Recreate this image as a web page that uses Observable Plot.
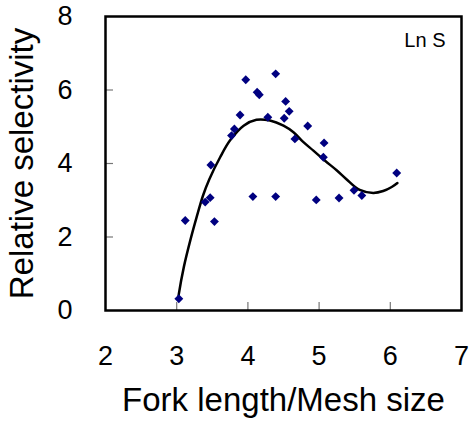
<!DOCTYPE html>
<html>
<head>
<meta charset="utf-8">
<script src="https://cdn.jsdelivr.net/npm/d3@7"></script>
<script src="https://cdn.jsdelivr.net/npm/@observablehq/plot@0.6"></script>
<style>
  body { margin: 0; background: #fff; }
  svg { font-family: "Liberation Sans", Arial, sans-serif; }
</style>
</head>
<body>
<div id="chart"></div>
<script>
const pointX = [3.03, 3.12, 3.53, 3.40, 3.47, 4.07, 4.39, 3.97, 4.39, 4.13, 4.16, 3.89, 3.81, 3.77, 3.48, 4.28, 4.53, 4.58, 4.51, 4.84, 4.66, 5.07, 5.06, 5.28, 5.49, 5.60, 6.09, 4.96];
const pointY = [0.32, 2.45, 2.42, 2.95, 3.07, 3.10, 3.10, 6.28, 6.44, 5.94, 5.87, 5.32, 4.94, 4.76, 3.96, 5.26, 5.69, 5.42, 5.23, 5.02, 4.67, 4.56, 4.17, 3.06, 3.27, 3.13, 3.74, 3.01];
const curveX = [3.02, 3.03, 3.10, 3.19, 3.28, 3.37, 3.46, 3.61, 3.75, 3.94, 4.12, 4.31, 4.50, 4.64, 4.78, 4.92, 5.08, 5.25, 5.38, 5.57, 5.76, 5.90, 6.02, 6.10];
const curveY = [0.30, 0.45, 1.18, 1.90, 2.54, 3.13, 3.58, 4.17, 4.63, 5.03, 5.19, 5.17, 5.03, 4.85, 4.58, 4.35, 4.08, 3.81, 3.58, 3.28, 3.20, 3.25, 3.36, 3.47];
const xTickLabels = [2, 3, 4, 5, 6, 7];
const xInnerTicks = [3, 4, 5, 6];
const yTickLabels = [0, 2, 4, 6, 8];
const yInnerTicks = [2, 4, 6];
const seriesLabel = "Ln S";

const points = pointX.map((x, i) => ({x, y: pointY[i]}));
const curve = curveX.map((x, i) => ({x, y: curveY[i]}));

const chart = Plot.plot({
  width: 472,
  height: 421,
  marginLeft: 105,
  marginRight: 11,
  marginTop: 16,
  marginBottom: 111,
  style: {fontFamily: '"Liberation Sans", Arial, sans-serif', background: "#fff"},
  x: {domain: [2, 7]},
  y: {domain: [0, 8]},
  marks: [
    Plot.axisX({ticks: xInnerTicks, tickSize: -8, stroke: "#777", strokeWidth: 1.2, tickFormat: () => "", label: null}),
    Plot.axisY({ticks: yInnerTicks, tickSize: -8, stroke: "#777", strokeWidth: 1.2, tickFormat: () => "", label: null}),
    Plot.axisX({ticks: xTickLabels, tickSize: 0, tickPadding: 35, fontSize: 27, fill: "#000", tickFormat: d3.format("d"),
      label: "Fork length/Mesh size", labelAnchor: "center", labelArrow: "none", labelOffset: 100}),
    Plot.axisY({ticks: yTickLabels, tickSize: 0, tickPadding: 33, fontSize: 27, fill: "#000", tickFormat: d3.format("d"),
      label: "Relative selectivity", labelAnchor: "center", labelArrow: "none", labelOffset: 96}),
    Plot.frame({stroke: "#000", strokeWidth: 2.5}),
    Plot.line(curve, {x: "x", y: "y", curve: "catmull-rom", stroke: "#000", strokeWidth: 2.5}),
    Plot.dot(points, {x: "x", y: "y", symbol: "diamond2", r: 4, fill: "#000080", stroke: "none"}),
    Plot.text([seriesLabel], {frameAnchor: "top-right", dx: -16, dy: 16, lineAnchor: "top", textAnchor: "end", fontSize: 20, fill: "#000"})
  ]
});
chart.querySelectorAll('[aria-label="x-axis label"], [aria-label="y-axis label"]').forEach(g => {
  g.setAttribute("font-size", 33);
  g.querySelectorAll("text").forEach(t => t.setAttribute("font-size", 33));
});
document.getElementById("chart").appendChild(chart);
</script>
</body>
</html>
